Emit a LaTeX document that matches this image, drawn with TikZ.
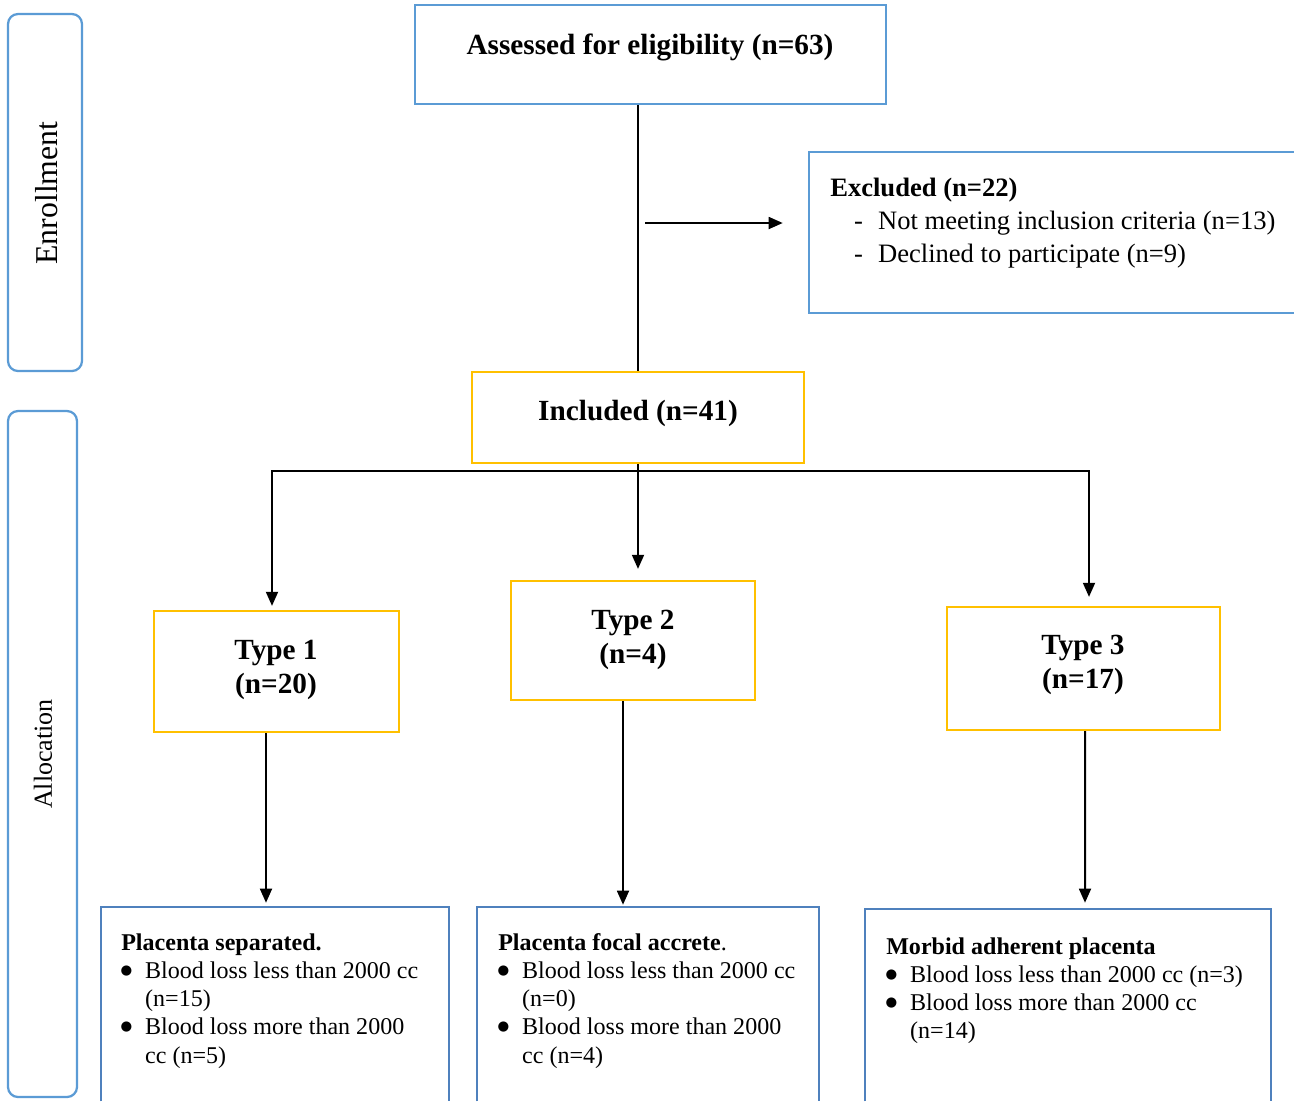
\documentclass[tikz,border=0pt]{standalone}
\usepackage{fontspec}
\setmainfont{Liberation Serif}
\newfontfamily\symfont{DejaVu Sans}
\usetikzlibrary{arrows.meta,calc,fit}

\newcommand\blt{\makebox[6pt][c]{\raisebox{2.9pt}{\symfont\fontsize{9.5}{10}\selectfont ●}}}

\begin{document}
\begin{tikzpicture}[x=0.025cm,y=-0.025cm,
  blueline/.style={draw=boxblue, line width=1.6pt},
  resline/.style={draw=resblue, line width=1.6pt},
  bluebox/.style={blueline, inner sep=0pt},
  goldbox/.style={draw=boxgold, line width=1.6pt, inner sep=0pt},
  openbox/.style={inner sep=0pt},
  hdr/.style={font=\fontsize{20.8}{24.2}\selectfont\bfseries, align=center, inner sep=0pt},
  listtxt/.style={font=\fontsize{17.1}{20.1}\selectfont, anchor=base west, inner sep=0pt},
  line/.style={line width=1.4pt},
  arr/.style={line width=1.4pt, -{Triangle[length=10pt,width=8.5pt]}}]
  % Define colors
  \definecolor{boxblue}{RGB}{91,155,213}
  \definecolor{resblue}{RGB}{79,129,189}
  \definecolor{boxgold}{RGB}{255,192,0}

  \useasboundingbox (0,0) rectangle (1294,1101);

  % Side bars
  \draw[blueline, rounded corners=0.25cm] (8,14) rectangle (82,371);
  \draw[blueline, rounded corners=0.25cm] (8,411) rectangle (77,1097);
  \node[rotate=90, inner sep=0pt, font=\fontsize{22.6}{26}\selectfont] (enrtxt) at (47,193) {Enrollment};
  \node[rotate=90, inner sep=0pt, font=\fontsize{18.5}{22}\selectfont] (alloctxt) at (43,754) {Allocation};

  % Boxes
  \node[bluebox, fit={(415,5) (886,104)}] (assess) {};
  \node[openbox, fit={(809,152) (1294,313)}] (excl) {};
  \node[goldbox, fit={(472,372) (804,463)}] (incl) {};
  \node[goldbox, fit={(154,611) (399,732)}] (type1) {};
  \node[goldbox, fit={(511,581) (755,700)}] (type2) {};
  \node[goldbox, fit={(947,607) (1220,730)}] (type3) {};
  \node[openbox, fit={(101,907) (449,1101)}] (res1) {};
  \node[openbox, fit={(477,907) (819,1101)}] (res2) {};
  \node[openbox, fit={(865,909) (1271,1101)}] (res3) {};

  % Open outlines (cut by the page edge)
  \draw[blueline] (excl.north east) -| (excl.south west) -- (excl.south east);
  \draw[resline] (res1.south west) |- (res1.north east) -- (res1.south east);
  \draw[resline] (res2.south west) |- (res2.north east) -- (res2.south east);
  \draw[resline] (res3.south west) |- (res3.north east) -- (res3.south east);

  % Texts
  \node[hdr] (assesstxt) at (650,47) {Assessed for eligibility (n=63)};
  \node[hdr] (incltxt) at (638,413) {Included (n=41)};
  \node[hdr] (type1txt) at (276,670) {Type 1\\(n=20)};
  \node[hdr] (type2txt) at (633,640) {Type 2\\(n=4)};
  \node[hdr] (type3txt) at (1083,665) {Type 3\\(n=17)};

  \node[font=\fontsize{18.9}{23.8}\selectfont, anchor=base west, inner sep=0pt] (excltxt) at (830,196) {%
    \begin{tabular}[t]{@{\hspace{17pt}}l@{\hspace{10.7pt}}l@{}}
      \multicolumn{2}{@{}l@{}}{\textbf{Excluded (n=22)}}\\
      - & Not meeting inclusion criteria (n=13)\\
      - & Declined to participate (n=9)
    \end{tabular}};

  \node[listtxt] (res1txt) at (121,950) {%
    \begin{tabular}[t]{@{\hspace{0.7pt}}l@{\hspace{10.3pt}}l@{}}
      \multicolumn{2}{@{}l@{}}{\textbf{Placenta separated.}}\\
      \blt & Blood loss less than 2000 cc\\
           & (n=15)\\
      \blt & Blood loss more than 2000\\
           & cc (n=5)
    \end{tabular}};
  \node[listtxt] (res2txt) at (498,950) {%
    \begin{tabular}[t]{@{\hspace{0.7pt}}l@{\hspace{10.3pt}}l@{}}
      \multicolumn{2}{@{}l@{}}{\textbf{Placenta focal accrete}.}\\
      \blt & Blood loss less than 2000 cc\\
           & (n=0)\\
      \blt & Blood loss more than 2000\\
           & cc (n=4)
    \end{tabular}};
  \node[listtxt] (res3txt) at (886,954) {%
    \begin{tabular}[t]{@{\hspace{0.7pt}}l@{\hspace{10.3pt}}l@{}}
      \multicolumn{2}{@{}l@{}}{\textbf{Morbid adherent placenta}}\\
      \blt & Blood loss less than 2000 cc (n=3)\\
      \blt & Blood loss more than 2000 cc\\
           & (n=14)
    \end{tabular}};

  % Connectors
  \draw[line] (assess.south -| incl.north) -- (incl.north);
  \coordinate (exstart) at (645,223);
  \draw[arr] (exstart) -- ($(exstart -| excl.west)+(-26,0)$);

  \coordinate (bus) at (incl.south |- 0,471);
  \draw[arr] (incl.south) -- ($(incl.south |- type2.north)+(0,-11)$);
  \draw[arr] (bus) -| ($(type1.north)+(-4.5,-4)$);
  \draw[arr] (bus) -| ($(type3.north)+(5.5,-9)$);

  \draw[arr] ($(type1.south)+(-10.5,0)$) -- ($(res1.north)+(-9,-4)$);
  \draw[arr] ($(type2.south)+(-10,0)$) -- ($(res2.north)+(-25,-2)$);
  \draw[arr] ($(type3.south)+(1.5,0)$) -- ($(res3.north)+(17,-6)$);
\end{tikzpicture}
\end{document}
